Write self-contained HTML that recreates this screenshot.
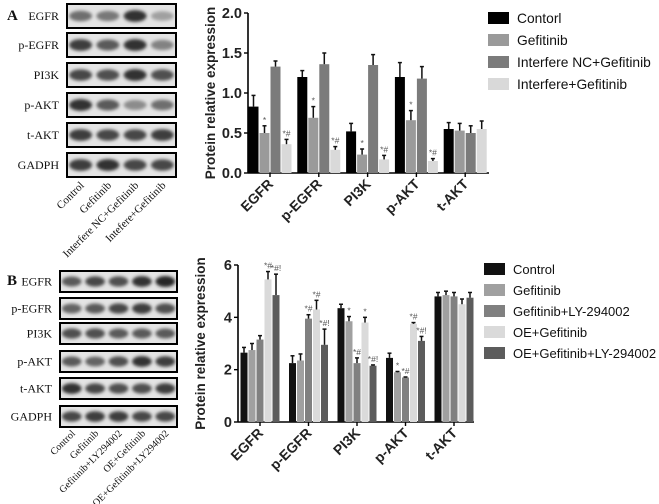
<!DOCTYPE html>
<html><head><meta charset="utf-8">
<style>
html,body{margin:0;padding:0;background:#fff;}
svg{display:block;font-family:"Liberation Sans",sans-serif;}
.serif{font-family:"Liberation Serif",serif;}
</style></head>
<body>
<svg id="fig" width="659" height="504" viewBox="0 0 659 504">
<defs>
<filter id="blur" x="-20%" y="-50%" width="140%" height="200%"><feGaussianBlur stdDeviation="1.6"/></filter>
</defs>
<g id="blotA"></g>
<g id="blotB"></g>
<g id="chartA"></g>
<g id="chartB"></g>
</svg>
<script>
const NS="http://www.w3.org/2000/svg";
function mk(parent,tag,attrs,txt){const e=document.createElementNS(NS,tag);for(const k in attrs)e.setAttribute(k,attrs[k]);if(txt!==undefined)e.textContent=txt;parent.appendChild(e);return e;}

// ---------- Data ----------
const catsA=["EGFR","p-EGFR","PI3K","p-AKT","t-AKT"];
const seriesNamesA=["Contorl","Gefitinib","Interfere NC+Gefitinib","Interfere+Gefitinib"];
const controlA=[0.83,1.2,0.52,1.2,0.55];
const gefA=[0.5,0.69,0.23,0.66,0.53];
const ncA=[1.33,1.36,1.35,1.18,0.5];
const intA=[0.36,0.29,0.17,0.15,0.55];
const errControlA=[0.14,0.08,0.1,0.18,0.08];
const errGefA=[0.09,0.14,0.07,0.12,0.09];
const errNcA=[0.07,0.14,0.13,0.15,0.09];
const errIntA=[0.06,0.04,0.05,0.03,0.1];
const marksA=[["","*","","*#"],["","*","","*#"],["","*","","*#"],["","*","","*#"],["","","",""]];
const ticksA=["0.0","0.5","1.0","1.5","2.0"];

const catsB=["EGFR","p-EGFR","PI3K","p-AKT","t-AKT"];
const seriesNamesB=["Control","Gefitinib","Gefitinib+LY-294002","OE+Gefitinib","OE+Gefitinib+LY-294002"];
const controlB=[2.65,2.25,4.35,2.45,4.8];
const gefB=[2.75,2.35,3.85,1.9,4.85];
const lyB=[3.15,3.95,2.25,1.7,4.8];
const oeB=[5.45,4.3,3.8,3.75,4.5];
const oeLyB=[4.85,2.95,2.15,3.1,4.75];
const errControlB=[0.2,0.28,0.15,0.18,0.15];
const errGefB=[0.25,0.25,0.18,0.03,0.15];
const errLyB=[0.15,0.15,0.2,0.02,0.15];
const errOeB=[0.3,0.35,0.2,0.05,0.2];
const errOeLyB=[0.8,0.6,0.03,0.17,0.2];
const marksB=[["","","","*#","*#!"],["","","*#","*#","*#!"],["","*","*#","*","*#!"],["","*","*#","*#","*#!"],["","","","",""]];
const ticksB=["0","2","4","6"];

function drawChart(g,o){
  const y=v=>o.y0-(v/o.ymax)*(o.y0-o.y1);
  mk(g,"line",{x1:o.ax,y1:o.y1,x2:o.ax,y2:o.y0,stroke:"#000","stroke-width":1.6,});
  mk(g,"line",{x1:o.ax,y1:o.y0,x2:o.xend,y2:o.y0,stroke:"#000","stroke-width":1.6,});
  o.ticks.forEach((t,i)=>{const v=parseFloat(t);const yy=y(v);
    mk(g,"line",{x1:o.ax-4,y1:yy,x2:o.ax,y2:yy,stroke:"#000","stroke-width":1.4});
    const tl=mk(g,"text",{x:o.ax-6,y:yy+5,"text-anchor":"end","font-size":14.5,"font-weight":"bold",fill:"#222"},t);
    
    
  });
  const yt=mk(g,"text",{transform:`translate(${o.ax-33},${(o.y0+o.y1)/2}) rotate(-90)`,"text-anchor":"middle","font-size":13.5,"font-weight":"bold",fill:"#222"},"Protein relative expression");
  
  
  const n=o.series.length;
  o.cats.forEach((c,ci)=>{
    const cx=o.gx0+ci*o.gstep;
    mk(g,"line",{x1:cx,y1:o.y0,x2:cx,y2:o.y0+4,stroke:"#000","stroke-width":1.4});
    const cl=mk(g,"text",{transform:`translate(${cx+4},${o.y0+12}) rotate(-45)`,"text-anchor":"end","font-size":14,"font-weight":"bold",fill:"#222"},c);
    
    
    o.series.forEach((s,si)=>{
      const bx=cx-n*o.bw/2+si*o.bw;
      const v=s[ci],e=o.errs[si][ci];
      const r=mk(g,"rect",{x:bx+0.5,y:y(v),width:o.bw-1,height:o.y0-y(v),fill:o.colors[si]});
      
      
      const mx=bx+o.bw/2;
      mk(g,"line",{x1:mx,y1:y(v),x2:mx,y2:y(v+e),stroke:"#111","stroke-width":1.5});
      mk(g,"line",{x1:mx-2,y1:y(v+e),x2:mx+2,y2:y(v+e),stroke:"#111","stroke-width":1.5});
      const m=o.marks[ci][si];
      if(m){const t=mk(g,"text",{x:mx,y:y(v+e)-3,"text-anchor":"middle","font-size":8.5,fill:"#555"},m);
        
        }
    });
  });
  o.names.forEach((nm,i)=>{
    const ly=o.ly0+i*o.lstep;
    const sw=mk(g,"rect",{x:o.lx,y:ly-6,width:21,height:12,fill:o.colors[i]});
    
    
    const t=mk(g,"text",{x:o.lx+29,y:ly+5,"font-size":o.lfs,fill:"#111"},nm);
    
    
  });
}

drawChart(document.getElementById("chartA"),{ax:248,y0:173,y1:13,ymax:2,xend:489,gx0:270,gstep:48.8,bw:11,
  cats:catsA,series:[controlA,gefA,ncA,intA],errs:[errControlA,errGefA,errNcA,errIntA],marks:marksA,ticks:ticksA,
  colors:["#000","#9a9a9a","#7b7b7b","#d9d9d9"],names:seriesNamesA,lx:488,ly0:18,lstep:22,lfs:13.8});
drawChart(document.getElementById("chartB"),{ax:238,y0:422,y1:265,ymax:6,xend:474,gx0:260,gstep:48.5,bw:8,
  cats:catsB,series:[controlB,gefB,lyB,oeB,oeLyB],errs:[errControlB,errGefB,errLyB,errOeB,errOeLyB],marks:marksB,ticks:ticksB,
  colors:["#111","#a0a0a0","#808080","#dadada","#5c5c5c"],names:seriesNamesB,lx:484,ly0:269,lstep:21,lfs:13});

// ---------- Blots ----------
function drawBlot(g,o){
  const L=mk(g,"text",{x:o.letterX,y:o.letterY,"font-size":15,"font-weight":"bold",class:"serif",fill:"#111"},o.letter);
  
  
  o.rows.forEach((r,ri)=>{
    const top=o.tops[ri],h=o.h;
    const box=mk(g,"rect",{x:o.x,y:top,width:o.w,height:h,fill:"#e4e4e4",stroke:"#000","stroke-width":2});
    
    
    const t=mk(g,"text",{x:o.x-8,y:top+h/2+4,"text-anchor":"end","font-size":12,class:"serif",fill:"#111"},r);
    
    
    o.intensity[ri].forEach((v,li)=>{
      const cx=o.x+o.w*(li+0.5)/o.lanes.length;
      const g2=Math.round(230-200*v);
      mk(g,"ellipse",{cx:cx,cy:top+h/2,rx:o.w/o.lanes.length*0.42,ry:h*0.17+v*2,fill:`rgb(${g2},${g2},${g2})`,filter:"url(#blur)"});
    });
  });
  o.lanes.forEach((ln,li)=>{
    const cx=o.x+o.w*(li+0.5)/o.lanes.length;
    const t=mk(g,"text",{transform:`translate(${cx+4},${o.labelY}) rotate(-45)`,"text-anchor":"end","font-size":o.lfs,class:"serif",fill:"#111"},ln);
    
    
  });
}
drawBlot(document.getElementById("blotA"),{letter:"A",letterX:7,letterY:20,x:67,w:109,h:24,
  tops:[4,33,63,93,123,153],rows:["EGFR","p-EGFR","PI3K","p-AKT","t-AKT","GADPH"],
  lanes:["Control","Gefitinib","Interfere NC+Gefitinib","Intefere+Gefitinib"],labelY:186,lfs:11,
  intensity:[[0.6,0.55,0.9,0.35],[0.85,0.7,0.9,0.5],[0.8,0.75,0.9,0.75],[0.9,0.7,0.45,0.6],[0.85,0.8,0.8,0.85],[0.85,0.9,0.8,0.8]]});
drawBlot(document.getElementById("blotB"),{letter:"B",letterX:7,letterY:285,x:60,w:117,h:21,
  tops:[271,298,323,351,378,406],rows:["EGFR","p-EGFR","PI3K","p-AKT","t-AKT","GADPH"],
  lanes:["Control","Gefitinib","Gefitinib+LY294002","OE+Gefitinib","OE+Gefitinib+LY294002"],labelY:434,lfs:10,
  intensity:[[0.7,0.8,0.75,0.9,0.95],[0.65,0.7,0.8,0.85,0.75],[0.75,0.75,0.7,0.7,0.7],[0.7,0.65,0.75,0.9,0.85],[0.9,0.8,0.75,0.75,0.85],[0.8,0.85,0.85,0.8,0.8]]});
</script>
</body></html>
